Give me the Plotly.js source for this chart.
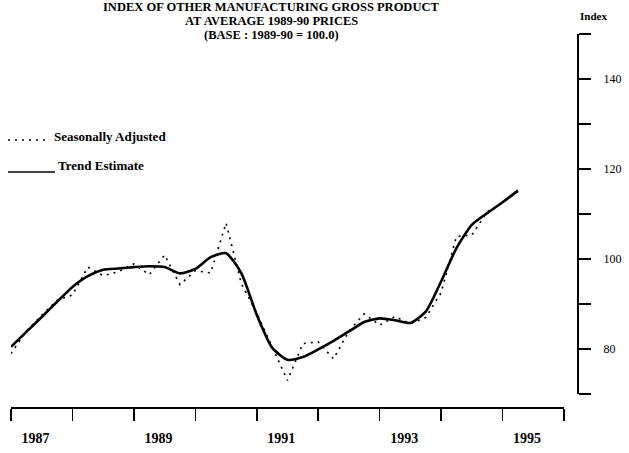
<!DOCTYPE html>
<html>
<head>
<meta charset="utf-8">
<script src="https://cdn.plot.ly/plotly-3.0.1.min.js"></script>
<style>
  body { margin: 0; background: #fff; }
  #plotdiv { width: 629px; height: 453px; }
</style>
</head>
<body>
<div id="plotdiv"></div>
<script>
// quarterly series, first quarter sits on the 1987 tick
var startYear = 1987;

var trendEstimate = [80.5, 83.8, 87.1, 90.5, 93.8, 96.2, 97.6, 97.9, 98.2, 98.4,
  98.2, 96.8, 97.8, 100.4, 101.3, 96.8, 87.6, 80.3, 77.6, 78.2,
  79.9, 81.8, 83.9, 86.0, 86.8, 86.4, 85.8, 88.3, 95.0, 102.4,
  107.6, 110.2, 112.6, 115.2];

var seasonallyAdjusted = [79.0, 84.0, 87.5, 90.8, 92.0, 98.2, 96.3, 97.2, 98.9, 96.5,
  100.9, 94.3, 97.4, 96.9, 108.0, 94.5, 88.0, 80.5, 73.0, 81.2,
  81.6, 77.8, 84.0, 87.8, 85.3, 87.2, 85.6, 87.0, 92.5, 105.0,
  105.3, 110.5, 112.5, 115.0];

var yearLabels = ['1987', '1989', '1991', '1993', '1995'];
var indexTicks = [80, 100, 120, 140];

var titleLines = [
  'INDEX OF OTHER MANUFACTURING GROSS PRODUCT',
  'AT AVERAGE 1989-90 PRICES',
  '(BASE : 1989-90 = 100.0)'
];

var quarters = trendEstimate.map(function(v, i){ return startYear + i / 4; });

var serif = 'Liberation Serif, Times New Roman, serif';

var sa = {
  x: quarters,
  y: seasonallyAdjusted,
  mode: 'lines',
  type: 'scatter',
  name: 'Seasonally Adjusted',
  line: {color: '#000', width: 1.6, dash: '2px,5px'},
  cliponaxis: false
};

var trend = {
  x: quarters,
  y: trendEstimate,
  mode: 'lines',
  type: 'scatter',
  name: 'Trend Estimate',
  line: {color: '#000', width: 2.6, shape: 'spline', smoothing: 0.6},
  cliponaxis: false
};

// plot area is 11..578 px across and 20..408 px down
function px(x){ return (x - 11) / 567; }
function py(y){ return (408 - y) / 388; }

var annotations = titleLines.map(function(t, i){
  return {
    text: '<b>' + t + '</b>', xref: 'paper', yref: 'paper',
    x: px(271), y: py(7 + i * 14), xanchor: 'center', yanchor: 'middle',
    showarrow: false, font: {family: serif, size: 12.5, color: '#000'}
  };
});

annotations.push({
  text: '<b>Index</b>', xref: 'paper', yref: 'paper', x: px(593), y: py(16),
  xanchor: 'center', yanchor: 'middle', showarrow: false,
  font: {family: serif, size: 11, color: '#000'}
});
annotations.push({
  text: '<b>Seasonally Adjusted</b>', xref: 'paper', yref: 'paper', x: px(52), y: py(136),
  xanchor: 'left', yanchor: 'middle', showarrow: false,
  font: {family: serif, size: 13, color: '#000'}
});
annotations.push({
  text: '<b>Trend Estimate</b>', xref: 'paper', yref: 'paper', x: px(56), y: py(165),
  xanchor: 'left', yanchor: 'middle', showarrow: false,
  font: {family: serif, size: 13, color: '#000'}
});

var shapes = [
  // right hand index axis, 70 to 150
  {type: 'line', xref: 'paper', yref: 'y', x0: 1, x1: 1, y0: 70, y1: 150,
   line: {color: '#000', width: 2}},
  // bottom year axis
  {type: 'line', xref: 'x', yref: 'paper', x0: 1987, x1: 1996, y0: 0, y1: 0,
   line: {color: '#000', width: 2}},
  // legend keys
  {type: 'line', xref: 'paper', yref: 'paper', x0: px(8), x1: px(46), y0: py(140), y1: py(140),
   line: {color: '#000', width: 1.6, dash: '2px,5px'}},
  {type: 'line', xref: 'paper', yref: 'paper', x0: px(8), x1: px(55), y0: py(172), y1: py(172),
   line: {color: '#000', width: 1.6}}
];

var layout = {
  width: 629,
  height: 453,
  margin: {l: 11, r: 51, t: 20, b: 45},
  paper_bgcolor: '#fff',
  plot_bgcolor: '#fff',
  showlegend: false,
  xaxis: {
    range: [1987, 1987 + 567 / 61.44],
    showgrid: false, zeroline: false, showline: false,
    tickvals: yearLabels.map(function(y){ return Number(y) + 0.4; }),
    ticktext: yearLabels,
    ticks: '',
    ticklabelstandoff: 20,
    tickfont: {family: serif, size: 14, color: '#000', weight: 'bold'},
    minor: {tick0: 1987, dtick: 1, ticks: 'outside', ticklen: 12, tickwidth: 1.5, tickcolor: '#000', showgrid: false}
  },
  yaxis: {
    side: 'right',
    range: [80 - 59 / 4.5, 80 + 329 / 4.5],
    showgrid: false, zeroline: false, showline: false,
    tickvals: indexTicks,
    ticks: 'outside', ticklen: 12, tickwidth: 2, tickcolor: '#000',
    ticklabelstandoff: 10,
    tickfont: {family: serif, size: 12, color: '#000'},
    minor: {tick0: 70, dtick: 10, ticks: 'outside', ticklen: 12, tickwidth: 2, tickcolor: '#000', showgrid: false}
  },
  shapes: shapes,
  annotations: annotations
};

Plotly.newPlot('plotdiv', [sa, trend], layout, {staticPlot: true});
</script>
</body>
</html>
